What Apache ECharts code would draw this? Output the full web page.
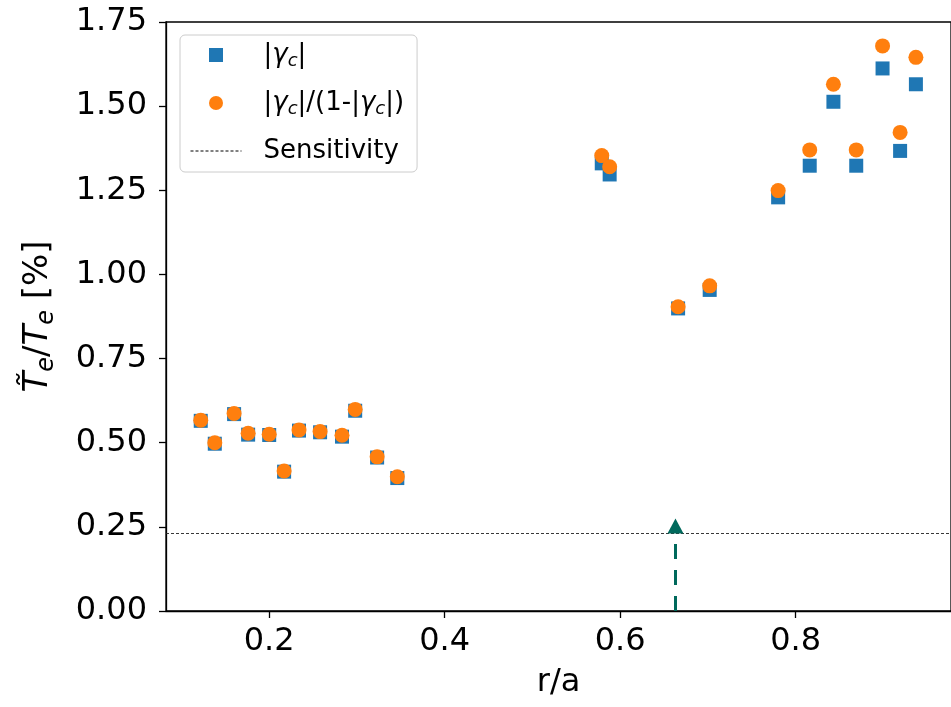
<!DOCTYPE html>
<html><head><meta charset="utf-8">
<script src="https://cdn.jsdelivr.net/npm/echarts@6/dist/echarts.min.js"></script>
<style>html,body{margin:0;padding:0;background:#fff}#c{width:951px;height:707px}</style>
</head><body><div id="c"></div>
<script>
const rPos = [0.122,0.138,0.160,0.176,0.200,0.217,0.234,0.258,0.283,0.298,0.323,0.346,0.579,0.588,0.666,0.702,0.780,0.816,0.843,0.869,0.899,0.919,0.937];
const gammaAbs = [0.565,0.497,0.585,0.524,0.523,0.414,0.536,0.531,0.518,0.595,0.456,0.395,1.330,1.297,0.899,0.954,1.229,1.323,1.513,1.323,1.612,1.367,1.565];
const gammaCorr = [0.567,0.500,0.587,0.528,0.525,0.416,0.538,0.533,0.522,0.599,0.458,0.399,1.353,1.320,0.904,0.966,1.249,1.370,1.565,1.370,1.679,1.422,1.645];
const sensitivity = 0.225;
const arrowX = 0.663;
const arrowTop = 0.2525;
const xTicks = [0.2, 0.4, 0.6, 0.8];
const yTicks = [0, 0.25, 0.5, 0.75, 1.0, 1.25, 1.5, 1.75];
const seriesNames = ['gabs', 'gcorr', 'Sensitivity'];

const FONT = 'DejaVu Sans';
const chart = echarts.init(document.getElementById('c'));
const richLeg = {
  sp: {width: 17, lineHeight: 30},
  n: {fontFamily: FONT, fontSize: 26, color: '#000', lineHeight: 30},
  it: {fontFamily: FONT, fontSize: 26, fontStyle: 'italic', color: '#000', lineHeight: 30},
  sub: {fontFamily: FONT, fontSize: 18, fontStyle: 'italic', color: '#000', lineHeight: 30, verticalAlign: 'bottom', padding: [9, 0, 0, 0]}
};
const legendText = {
  gabs: '{sp|}{n||}{it|γ}{sub|c}{n||}',
  gcorr: '{sp|}{n||}{it|γ}{sub|c}{n||/(1-|}{it|γ}{sub|c}{n||)}',
  Sensitivity: '{sp|}{n|Sensitivity}'
};
const pairs = ys => rPos.map((x, i) => [x, ys[i]]);

chart.setOption({
  animation: false,
  backgroundColor: '#fff',
  grid: {left: 166, top: 22, right: -3, bottom: 96, show: true, borderColor: '#000', borderWidth: 1.3, containLabel: false},
  xAxis: {
    type: 'value', min: 0.0824, max: 0.977,
    name: 'r/a', nameLocation: 'middle', nameGap: 56,
    nameTextStyle: {fontFamily: FONT, fontSize: 32, color: '#000'},
    axisLine: {show: true, onZero: false, lineStyle: {color: '#000', width: 1.3}},
    axisTick: {show: true, length: 7, lineStyle: {color: '#000', width: 1.3}, customValues: xTicks},
    axisLabel: {fontFamily: FONT, fontSize: 32, color: '#000', margin: 15, customValues: xTicks, formatter: v => v.toFixed(1)},
    splitLine: {show: false}
  },
  yAxis: {
    type: 'value', min: 0, max: 1.75,
    name: '{it|T̃}{sub|e}{n|/}{it|T}{sub|e}{n| [%]}', nameLocation: 'middle', nameGap: 107,
    nameTextStyle: {rich: {
      n: {fontFamily: FONT, fontSize: 34, color: '#000', lineHeight: 42},
      it: {fontFamily: FONT, fontSize: 34, fontStyle: 'italic', color: '#000', lineHeight: 42},
      sub: {fontFamily: FONT, fontSize: 24, fontStyle: 'italic', color: '#000', lineHeight: 42, verticalAlign: 'bottom', padding: [10, 0, 0, 0]}
    }},
    axisLine: {show: true, lineStyle: {color: '#000', width: 1.3}},
    axisTick: {show: true, length: 7, lineStyle: {color: '#000', width: 1.3}, customValues: yTicks},
    axisLabel: {fontFamily: FONT, fontSize: 32, color: '#000', margin: 19, customValues: yTicks, formatter: v => v.toFixed(2)},
    splitLine: {show: false}
  },
  legend: {
    orient: 'vertical', left: 180, top: 35,
    symbolKeepAspect: true,
    data: [
      {name: seriesNames[0], icon: 'path://M0,0H10V10H0Z'},
      {name: seriesNames[1], icon: 'circle'},
      {name: seriesNames[2],
       itemStyle: {color: 'rgba(0,0,0,0)', borderColor: 'rgba(0,0,0,0)', borderWidth: 0},
       lineStyle: {color: '#000', type: [3, 2], width: 1}}
    ],
    itemWidth: 51, itemHeight: 14, itemGap: 20,
    padding: [7, 13, 8, 10],
    borderColor: '#cccccc', borderWidth: 1, borderRadius: 5,
    backgroundColor: 'rgba(255,255,255,0.8)',
    formatter: name => legendText[name],
    textStyle: {rich: richLeg}
  },
  series: [
    {name: seriesNames[0], type: 'scatter', symbol: 'rect', symbolSize: 14, z: 2,
     itemStyle: {color: '#1f77b4', opacity: 1}, data: pairs(gammaAbs)},
    {name: seriesNames[1], type: 'scatter', symbol: 'circle', symbolSize: 15, z: 3,
     itemStyle: {color: '#ff7f0e', opacity: 1}, data: pairs(gammaCorr)},
    {name: seriesNames[2], type: 'line', data: [], symbol: 'none', showSymbol: false, itemStyle: {color: '#000'},
     lineStyle: {type: [3, 2], width: 1, color: '#000'},
     markLine: {silent: true, symbol: 'none', label: {show: false},
       lineStyle: {type: [3, 2], width: 0.9, color: '#222'},
       data: [{yAxis: sensitivity}]}},
    {name: 'arrow', type: 'line', data: [], symbol: 'none',
     markLine: {silent: true, label: {show: false}, symbol: ['none', 'triangle'], symbolSize: [16, 15],
       lineStyle: {type: [15, 11], width: 3, color: '#00695c'}, itemStyle: {color: '#00695c'},
       data: [[{coord: [arrowX, 0]}, {coord: [arrowX, arrowTop]}]]}}
  ]
});
</script></body></html>
